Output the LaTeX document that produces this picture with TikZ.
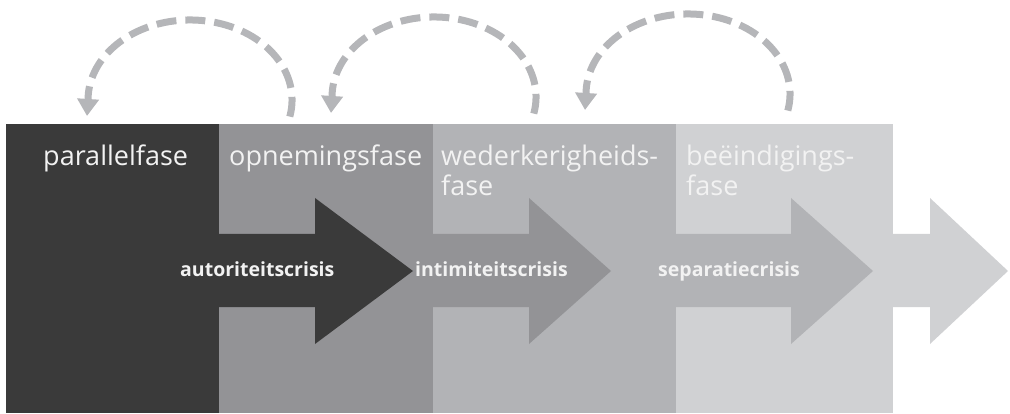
\documentclass[tikz,border=0pt]{standalone}
\usepackage{fontspec}
\setmainfont{Open Sans}
\usetikzlibrary{arrows.meta}
\definecolor{cA}{RGB}{58,58,58}
\definecolor{cB}{RGB}{147,147,150}
\definecolor{cC}{RGB}{178,179,182}
\definecolor{cD}{RGB}{208,209,211}
\definecolor{cArc}{RGB}{181,182,185}
\definecolor{txt}{RGB}{242,242,242}
\tikzset{
  phase/.style={anchor=base west, inner sep=0pt, text=txt, font=\fontsize{27}{30}\selectfont, align=left},
  crisis/.style={anchor=base west, inner sep=0pt, text=txt, font=\fontsize{19.5}{22}\selectfont\bfseries},
  backarc/.style={draw=cArc, line width=7pt, dash pattern=on 20pt off 9pt, -{Triangle[width=21pt,length=17pt]}},
}
\begin{document}
\begin{tikzpicture}[x=1pt,y=1pt]
\useasboundingbox (0,0) rectangle (1010,413);
% panels
\fill[cA] (6,0) rectangle (219,289);
\fill[cB] (219,0) rectangle (433,289);
\fill[cC] (433,0) rectangle (676,289);
\fill[cD] (676,0) rectangle (893,289);
% block arrows
\fill[cA] (219,179) -- (315,179) -- (315,215) -- (413,142) -- (315,69) -- (315,106) -- (219,106) -- cycle;
\fill[cB] (433,179) -- (529,179) -- (529,215) -- (611,142) -- (529,69) -- (529,106) -- (433,106) -- cycle;
\fill[cC] (676,179) -- (791,179) -- (791,215) -- (873,142) -- (791,69) -- (791,106) -- (676,106) -- cycle;
\fill[cD] (893,179) -- (930,179) -- (930,215) -- (1008,142) -- (930,69) -- (930,106) -- (893,106) -- cycle;
% phase labels
\node[phase] (p1) at (43,247) {parallelfase};
\node[phase] (p2) at (229,247) {opnemingsfase};
\node[phase] (p3) at (441,217) {wederkerigheids-\\fase};
\node[phase] (p4) at (686,217) {beëindigings-\\fase};
% crisis labels
\node[crisis] (k1) at (180,136) {autoriteitscrisis};
\node[crisis] (k2) at (415,136) {intimiteitscrisis};
\node[crisis] (k3) at (658,136) {separatiecrisis};
% dashed return arcs
\coordinate (a1) at (289.8,296.4);
\coordinate (a2) at (533.8,299.4);
\coordinate (a3) at (787.8,302.4);
\draw[backarc] (a1) arc[start angle=-12, end angle=180, x radius=102, y radius=80] -- ++(-1,-16);
\draw[backarc] (a2) arc[start angle=-12, end angle=180, x radius=102, y radius=80] -- ++(-1,-16);
\draw[backarc] (a3) arc[start angle=-12, end angle=180, x radius=102, y radius=80] -- ++(-1,-16);
\end{tikzpicture}
\end{document}
